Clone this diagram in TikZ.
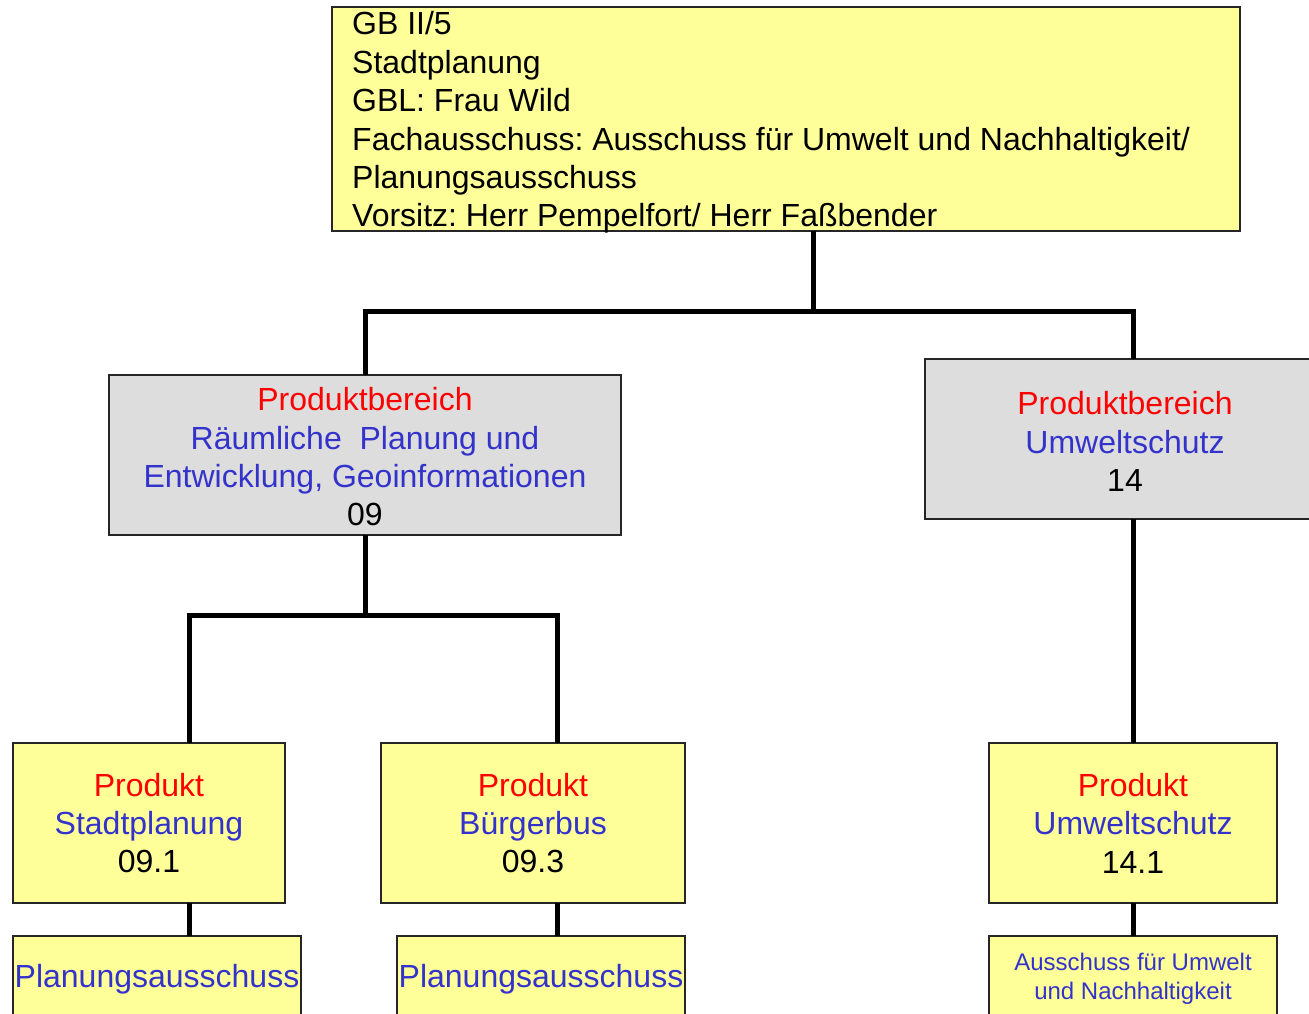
\documentclass[tikz,border=0pt]{standalone}
\usepackage{fontspec}
\setmainfont{Liberation Sans}
\definecolor{boxyellow}{HTML}{FFFF99}
\definecolor{boxgray}{HTML}{DDDDDD}
\definecolor{tblue}{HTML}{3333CC}
\definecolor{tred}{HTML}{FF0000}
\frenchspacing
\begin{document}
\begin{tikzpicture}[x=1pt,y=-1pt,
  box/.style={draw=black!85, line width=1.5pt, inner sep=0pt, outer sep=0pt, anchor=north west, align=center, font=\fontsize{32}{38.4}\selectfont},
  ybox/.style={box, fill=boxyellow},
  gbox/.style={box, fill=boxgray},
  conn/.style={line width=5pt, line join=miter}]
\useasboundingbox (0,0) rectangle (1309,1014);
\clip (0,0) rectangle (1309,1014);

\node[ybox, minimum width=908, minimum height=224] (gb) at (332,7) {};
\node[anchor=north west, inner sep=0pt, align=left, font=\fontsize{32}{38.4}\selectfont] (gbt) at (352,11.5)
  {GB II/5\\Stadtplanung\\GBL: Frau Wild\\Fachausschuss: Ausschuss für Umwelt und Nachhaltigkeit/\\Planungsausschuss\\Vorsitz: Herr Pempelfort/ Herr Faßbender};

\node[gbox, minimum width=512, minimum height=160] (pb09) at (109,375)
  {\rule{0pt}{27pt}\textcolor{tred}{Produktbereich}\\\textcolor{tblue}{Räumliche\ \ Planung und}\\\textcolor{tblue}{Entwicklung, Geoinformationen}\\09};
\node[gbox, minimum width=400, minimum height=160] (pb14) at (925,359)
  {\rule{0pt}{28pt}\textcolor{tred}{Produktbereich}\\\textcolor{tblue}{Umweltschutz}\\14};

\node[ybox, minimum width=272, minimum height=160] (p091) at (13,743)
  {\textcolor{tred}{Produkt}\\\textcolor{tblue}{Stadtplanung}\\09.1};
\node[ybox, minimum width=304, minimum height=160] (p093) at (381,743)
  {\textcolor{tred}{Produkt}\\\textcolor{tblue}{Bürgerbus}\\09.3};
\node[ybox, minimum width=288, minimum height=160] (p141) at (989,743)
  {\textcolor{tred}{Produkt}\\\textcolor{tblue}{Umweltschutz}\\14.1};

\node[ybox, minimum width=288, minimum height=86] (a091) at (13,936)
  {\textcolor{tblue}{Planungsausschuss}};
\node[ybox, minimum width=288, minimum height=86] (a093) at (397,936)
  {\textcolor{tblue}{Planungsausschuss}};
\node[ybox, minimum width=288, minimum height=86, font=\fontsize{24}{29}\selectfont] (a141) at (989,936)
  {\textcolor{tblue}{Ausschuss für Umwelt}\\\textcolor{tblue}{und Nachhaltigkeit}};

\coordinate (j1) at (813,311);
\coordinate (j14) at (1133,311);
\coordinate (j091) at (189,615);
\coordinate (j093) at (557,615);

\draw[conn] (gb.south -| j1) -- (j1);
\draw[conn] (pb09.north) -- (pb09.north |- j1) -- (j14) -- (j14 |- pb14.north);
\draw[conn] (pb09.south) -- (pb09.south |- j091);
\draw[conn] (p091.north -| j091) -- (j091) -- (j093) -- (p093.north -| j093);
\draw[conn] (p141.north) -- (p141.north |- pb14.south);
\draw[conn] (a091.north -| j091) -- (p091.south -| j091);
\draw[conn] (a093.north -| j093) -- (p093.south -| j093);
\draw[conn] (a141.north) -- (p141.south);
\end{tikzpicture}
\end{document}
